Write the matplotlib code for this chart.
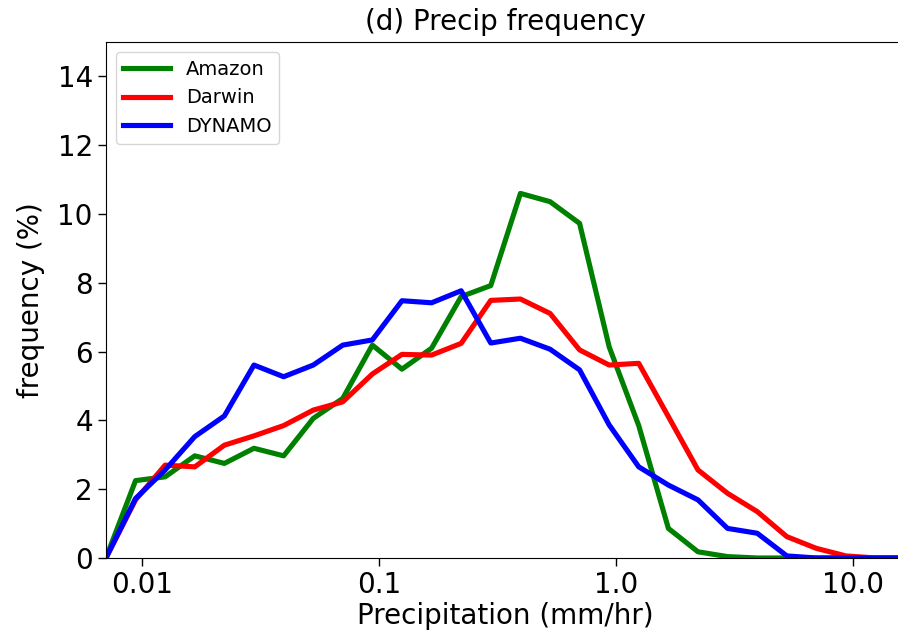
import numpy as np
import matplotlib
matplotlib.use('Agg')
import matplotlib.pyplot as plt
from matplotlib.ticker import FixedLocator, NullLocator

# Bin centres of the precipitation rate (mm/hr), log spaced
precip_bins = [0.00702, 0.00936, 0.01248, 0.01665, 0.0222, 0.0296, 0.0395,
               0.0527, 0.0702, 0.0936, 0.1248, 0.1665, 0.222, 0.296, 0.395,
               0.527, 0.702, 0.936, 1.248, 1.665, 2.22, 2.96, 3.95, 5.27,
               7.02, 9.36, 12.48, 16.65]

# Frequency (%) per bin for each site
amazon = [0.0, 2.25, 2.36, 2.97, 2.75, 3.19, 2.97, 4.06, 4.64, 6.19, 5.49,
          6.10, 7.60, 7.92, 10.60, 10.36, 9.73, 6.14, 3.85, 0.86, 0.18, 0.04,
          0.0, 0.0, 0.0, 0.0, 0.0, 0.0]
darwin = [0.0, 1.69, 2.70, 2.65, 3.28, 3.55, 3.85, 4.30, 4.54, 5.35, 5.92,
          5.90, 6.24, 7.49, 7.53, 7.11, 6.05, 5.61, 5.66, 4.11, 2.56, 1.88,
          1.35, 0.62, 0.28, 0.06, 0.0, 0.0]
dynamo = [0.0, 1.73, 2.56, 3.53, 4.13, 5.61, 5.27, 5.61, 6.19, 6.34, 7.48,
          7.42, 7.77, 6.25, 6.39, 6.07, 5.47, 3.87, 2.65, 2.12, 1.69, 0.86,
          0.72, 0.06, 0.0, 0.0, 0.0, 0.0]

xtick_vals = [0.01, 0.1, 1.0, 10.0]
xtick_labels = ['0.01', '0.1', '1.0', '10.0']
ytick_vals = [0, 2, 4, 6, 8, 10, 12, 14]

fig = plt.figure(figsize=(8.98, 6.33), dpi=100)
# axes runs slightly past the right edge of the figure, as in the original
ax = fig.add_axes([0.118, 0.1185, 0.890, 0.815])

ax.plot(precip_bins, amazon, color='green', lw=3.7, label='Amazon')
ax.plot(precip_bins, darwin, color='red', lw=3.7, label='Darwin')
ax.plot(precip_bins, dynamo, color='blue', lw=3.7, label='DYNAMO')

ax.set_xscale('log')
ax.set_xlim(precip_bins[0], precip_bins[-1])
ax.set_ylim(0, 15)
ax.xaxis.set_major_locator(FixedLocator(xtick_vals))
ax.xaxis.set_minor_locator(NullLocator())
ax.set_xticklabels(xtick_labels)
ax.set_yticks(ytick_vals)
ax.tick_params(labelsize=20, length=6, width=1)

ax.set_xlabel('Precipitation (mm/hr)', fontsize=20, labelpad=2)
ax.set_ylabel('frequency (%)', fontsize=20, labelpad=9)
ax.set_title('(d) Precip frequency', fontsize=20, pad=9)

ax.legend(loc='upper left', fontsize=14, handlelength=2.4, labelspacing=0.5)

fig.savefig('out.png', dpi=100)
